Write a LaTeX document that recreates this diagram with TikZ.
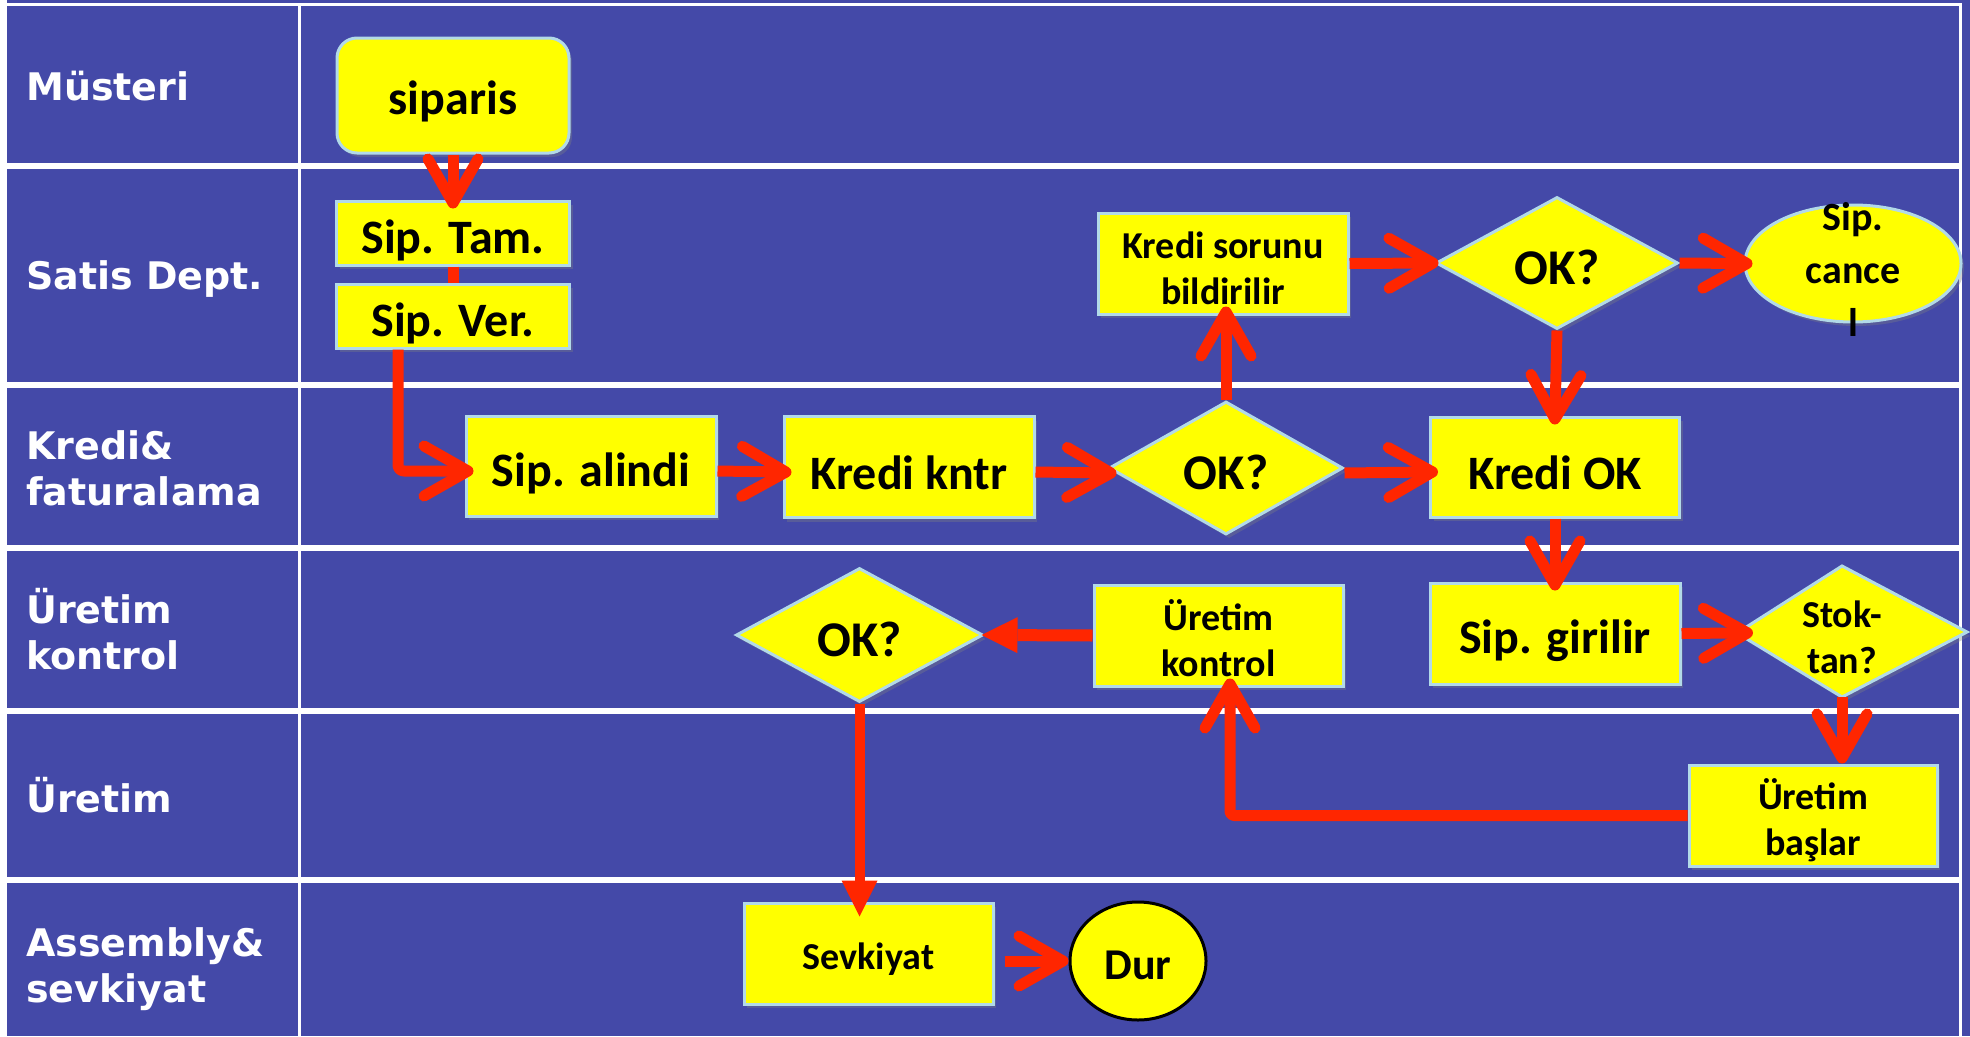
\documentclass[tikz,border=0pt]{standalone}
\usepackage{fontspec}
\setmainfont{Carlito}
\newfontfamily\lanefont{DejaVu Sans}
\usetikzlibrary{arrows.meta,shapes.geometric,shadows}
\definecolor{laneblue}{RGB}{68,73,168}
\definecolor{boxyellow}{RGB}{255,255,0}
\definecolor{boxedge}{RGB}{178,218,232}
\definecolor{flowred}{RGB}{255,38,0}
\newcommand\bigup{\rule{0pt}{45pt}}
\newcommand\bigupp{\rule{0pt}{49pt}}
\newcommand\okup{\rule{0pt}{43pt}}
\newcommand\medup{\rule{0pt}{37pt}}
\newcommand\medupp{\rule{0pt}{40pt}}
\tikzset{
  boxshadow/.style={drop shadow={shadow xshift=3pt, shadow yshift=-4pt, opacity=0.35}},
  procbox/.style={rectangle, fill=boxyellow, draw=boxedge, line width=3pt, inner sep=0pt, align=center, text=black, boxshadow},
  bigtext/.style={font=\fontsize{48}{56}\selectfont\bfseries},
  oktext/.style={font=\fontsize{50}{58}\selectfont\bfseries},
  medtext/.style={font=\fontsize{38}{46}\selectfont\bfseries},
  decision/.style={diamond, fill=boxyellow, draw=boxedge, line width=3pt, inner sep=0pt, align=center, text=black, boxshadow},
  lanelabel/.style={anchor=west, text=white, align=left, inner sep=0pt, font=\lanefont\bfseries\fontsize{38}{46}\selectfont},
  flow/.style={draw=flowred, line width=11pt, line cap=butt, line join=round},
  chev/.style={flow, shorten >=-9pt, -{Straight Barb[length=44pt,width=50pt,round]}},
  tri/.style={draw=flowred, line width=10pt, line cap=butt, -{Triangle[length=36pt,width=36pt,line width=0pt]}}
}
\begin{document}
\begin{tikzpicture}[x=1pt,y=-1pt]
\useasboundingbox (0,0) rectangle (1970,1036);
\fill[laneblue] (0,0) rectangle (1970,1036);
% grid lines
\fill[white] (0,0) rectangle (7,1036);
\fill[white] (0,2.5) rectangle (1962,5.5);
\foreach \yy in {166,384.5,547.5,710.5,880}
  \fill[white] (0,\yy-3) rectangle (1962,\yy+3);
\fill[white] (298,2.5) rectangle (301,1036);
\fill[white] (1959,2.5) rectangle (1962,1036);

% lane labels
\node[lanelabel] (lmus) at (26,86) {Müsteri};
\node[lanelabel] (lsat) at (26,279) {Satis Dept.};
\node[lanelabel] (lkre) at (26,468) {Kredi\&\\faturalama};
\node[lanelabel] (luk) at (26,629) {Üretim\\kontrol};
\node[lanelabel] (lur) at (26,795) {Üretim};
\node[lanelabel] (lass) at (26,969) {Assembly\&\\sevkiyat};

% nodes
\node[procbox, bigtext, rounded corners=20pt, minimum width=232pt, minimum height=115pt] (siparis) at (453,95.5) {\bigup siparis};
\node[procbox, bigtext, minimum width=233pt, minimum height=64pt] (siptam) at (453,233) {\bigupp Sip. Tam.};
\node[procbox, bigtext, minimum width=233pt, minimum height=64pt] (sipver) at (453,316) {\bigupp Sip. Ver.};
\node[procbox, bigtext, minimum width=250pt, minimum height=100pt] (sipal) at (591,466) {\bigupp Sip. alindi};
\node[procbox, bigtext, minimum width=250pt, minimum height=101pt] (kredik) at (909,467) {\bigup Kredi kntr};
\node[decision, oktext, minimum width=234pt, minimum height=133pt] (ok1) at (1226,468) {\okup OK?};
\node[procbox, bigtext, minimum width=249pt, minimum height=100pt] (kredok) at (1555,467) {\bigup Kredi OK};
\node[procbox, medtext, minimum width=250pt, minimum height=101pt] (kredsor) at (1223,263.5) {\medup Kredi sorunu\\bildirilir};
\node[decision, oktext, minimum width=242pt, minimum height=132pt] (ok2) at (1557,263) {\okup OK?};
\node[ellipse, fill=boxyellow, draw=boxedge, line width=3pt, boxshadow, minimum width=216pt, minimum height=117pt, inner sep=0pt] (cancel) at (1853,263.5) {};
\node[align=center, inner sep=0pt, font=\fontsize{40}{53}\selectfont\bfseries] (canceltxt) at (1853,269) {Sip.\\cance\\l};
\node[procbox, bigtext, minimum width=250pt, minimum height=101pt] (sipgir) at (1555,633.5) {\bigupp Sip. girilir};
\coordinate (stokL) at (1737,633);
\coordinate (stokT) at (1842,566);
\coordinate (stokR) at (1967,632);
\coordinate (stokB) at (1842,697);
\path[fill=boxyellow, draw=boxedge, line width=3pt, boxshadow] (stokL) -- (stokT) -- (stokR) -- (stokB) -- cycle;
\node[medtext, align=center, inner sep=0pt] (stok) at (1842,632) {\medup Stok-\\tan?};
\node[procbox, medtext, minimum width=249pt, minimum height=101pt] (urkon) at (1218.5,635.5) {\medup Üretim\\kontrol};
\node[decision, oktext, minimum width=247pt, minimum height=134pt] (ok3) at (859.5,635) {\okup OK?};
\node[procbox, medtext, minimum width=248pt, minimum height=101pt] (urbas) at (1813,815.5) {\medupp Üretim\\başlar};
\node[procbox, medtext, minimum width=249pt, minimum height=101pt] (sevk) at (868.5,953.5) {\medup Sevkiyat};
\node[ellipse, fill=boxyellow, draw=black, line width=3pt, inner sep=0pt, minimum width=136pt, minimum height=118pt, font=\fontsize{44}{52}\selectfont\bfseries] (dur) at (1138,961) {\rule{0pt}{38pt}Dur};

% connectors
\draw[chev] (siparis.south) -- (siptam.north);
\draw[flow] (siptam.south) -- (sipver.north);
\draw[chev, rounded corners=6pt] ([xshift=-55pt]sipver.south) |- ([yshift=-5pt]sipal.west);
\draw[chev] ([yshift=-5pt]sipal.east) -- ([yshift=-5pt]kredik.west);
\draw[chev] ([yshift=-5pt]kredik.east) -- ([yshift=-5pt]ok1.west);
\draw[chev] ([yshift=-5pt]ok1.east) -- ([yshift=-5pt]kredok.west);
\draw[chev] (ok1.north) -- (ok1.north |- kredsor.south);
\draw[chev, shorten >=-4pt] (kredsor.east) -- (ok2.west);
\draw[chev] (ok2.east) -- (cancel.west);
\draw[chev] (ok2.south) -- (kredok.north);
\draw[chev] (kredok.south) -- (sipgir.north);
\draw[chev, shorten >=-16pt] (sipgir.east) -- (stokL);
\draw[chev, shorten >=0pt] (stokB) -- (stokB |- urbas.north);
\draw[chev, rounded corners=4pt] (urbas.west) -| ([xshift=11.5pt]urkon.south);
\draw[tri, line width=12pt, shorten >=-3pt] (urkon.west) -- (ok3.east);
\draw[tri, shorten >=-15pt] (ok3.south) -- (ok3.south |- sevk.north);
\draw[chev, shorten <=10pt, shorten >=0pt] (sevk.east |- dur.west) -- (dur.west);
\end{tikzpicture}
\end{document}
